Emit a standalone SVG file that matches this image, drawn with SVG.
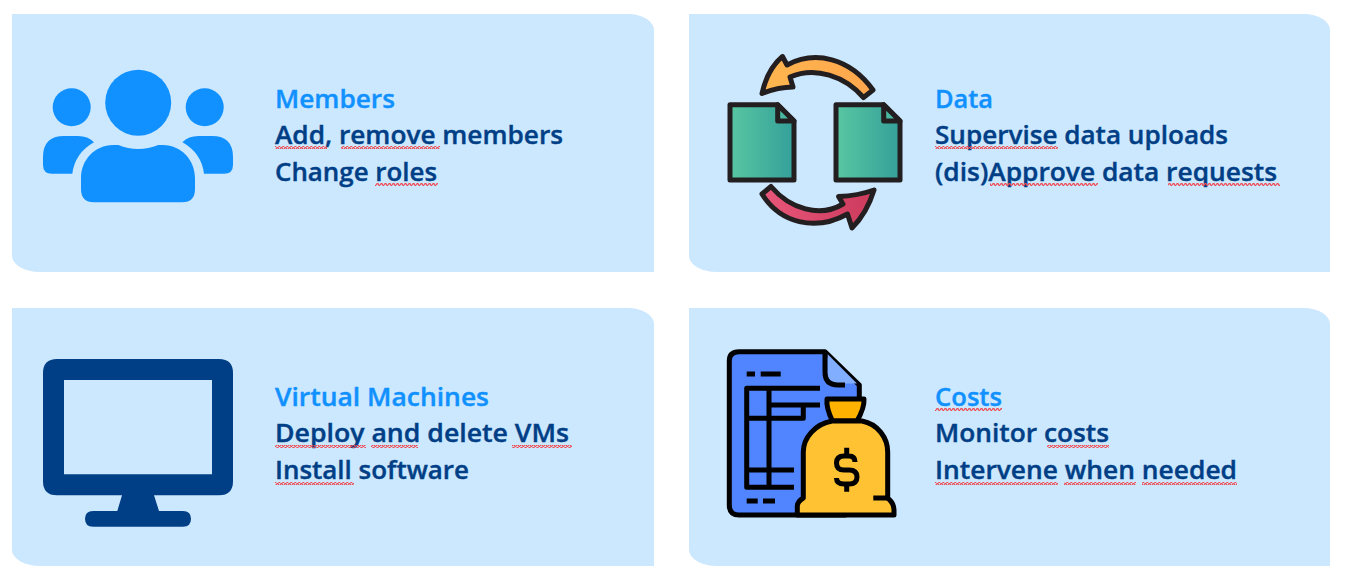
<svg xmlns="http://www.w3.org/2000/svg" width="1348" height="579" viewBox="0 0 1348 579">
<style>
.panel{fill:#CCE8FF}
text{font-family:"Open Sans","Noto Sans","Liberation Sans",sans-serif;font-size:26px;font-weight:600;stroke-width:.4}
.h{fill:#1191FF;stroke:#1191FF}
.b{fill:#003F86;stroke:#003F86}
.sq{fill:url(#squiggle)}
.ol{stroke:#231F20;stroke-width:5;stroke-linejoin:round;stroke-linecap:round}
.k{fill:none;stroke:#000;stroke-width:5;stroke-linecap:butt;stroke-linejoin:round}
.kf{stroke:#000;stroke-width:5;stroke-linejoin:round}
</style>
<defs>
<pattern id="squiggle" width="4" height="3" patternUnits="userSpaceOnUse">
<path d="M0 2.300L1 .7L2 .7L3 2.300L4 2.300" fill="none" stroke="#F0484F" stroke-width="1.200"/>
</pattern>
<linearGradient id="doc"><stop offset="0" stop-color="#58C7A1"/><stop offset="1" stop-color="#34A09A"/></linearGradient>
<linearGradient id="org"><stop offset="0" stop-color="#FFB64F"/><stop offset="1" stop-color="#FFA64D"/></linearGradient>
<linearGradient id="red"><stop offset="0" stop-color="#E8577A"/><stop offset="1" stop-color="#CC3B5C"/></linearGradient>
<g id="docIcon">
<path class="ol" fill="url(#doc)" d="M0 0H47.700L64 16.300V75.300H0Z"/>
<path class="ol" fill="#49B8A0" d="M47.700 0V16.300H64Z"/>
</g>
</defs>

<g id="members">
<path class="panel" d="M12 14H628A26 16 0 0 1 654 30V272H40A28 16 0 0 1 12 256Z"/>
<g fill="#1191FF">
<circle cx="138.200" cy="102.700" r="33"/>
<circle cx="71.700" cy="107.300" r="19"/>
<circle cx="204.700" cy="107.300" r="19"/>
<path d="M118.300 145Q138 153 158.300 145H163C181 145 195 160 195 178V189Q195 202.300 182 202.300H94Q81 202.300 81 189V178C81 160 95 145 113 145Z"/>
<path d="M94 142.300Q88 136 78 136H64Q43 136 43 157V165Q43 173.700 52 173.700H72.300Q75 153 94 142.300Z"/>
<path d="M182.400 142.300Q188.400 136 198.400 136H212Q233 136 233 157V165Q233 173.700 224 173.700H204Q201.400 153 182.400 142.300Z"/>
</g>
<text class="h" x="275" y="108" textLength="120" lengthAdjust="spacingAndGlyphs">Members</text>
<text class="b" x="275" y="144" textLength="288" lengthAdjust="spacingAndGlyphs">Add, remove members</text>
<text class="b" x="275" y="181" textLength="162" lengthAdjust="spacingAndGlyphs">Change roles</text>
<rect class="sq" x="275" y="146" width="52" height="3"/>
<rect class="sq" x="341" y="146" width="99" height="3"/>
<rect class="sq" x="375" y="183" width="63" height="3"/>
</g>

<g id="data">
<path class="panel" d="M689 14H1304A26 16 0 0 1 1330 30V272H717A28 16 0 0 1 689 256Z"/>
<use href="#docIcon" x="730" y="104.700"/>
<use href="#docIcon" x="836" y="104.700"/>
<path class="ol" fill="url(#org)" d="M873 90C850 58 815 50 787 65L782.500 56.500C771 66 765 80 762 93.500C771 90 782 87 793 87L790 77C815 66 845 76 863.500 97.500Z"/>
<path class="ol" fill="url(#red)" d="M762 194C780 223 815 232 847.500 214L852 228C863 217 870 203 874 190C863 194 852 196 838.500 196.500L843 204C820 218 790 209 771 186.500Z"/>
<text class="h" x="935" y="108" textLength="58" lengthAdjust="spacingAndGlyphs">Data</text>
<text class="b" x="935" y="144" textLength="293" lengthAdjust="spacingAndGlyphs">Supervise data uploads</text>
<text class="b" x="935" y="181" textLength="342" lengthAdjust="spacingAndGlyphs">(dis)Approve data requests</text>
<rect class="sq" x="935" y="146" width="123" height="3"/>
<rect class="sq" x="990" y="183" width="108" height="3"/>
<rect class="sq" x="1168" y="183" width="112" height="3"/>
</g>

<g id="virtual-machines">
<path class="panel" d="M12 308H628A26 16 0 0 1 654 324V566H40A28 16 0 0 1 12 550Z"/>
<path fill="#003F86" fill-rule="evenodd" d="M57 359H219Q233 359 233 373V481.300Q233 495.300 219 495.300H154L159 511H183Q191 511 191 518.800Q191 526.700 183 526.700H93Q85 526.700 85 518.800Q85 511 93 511H117.300L122 495.300H57Q43 495.300 43 481.300V373Q43 359 57 359ZM64 380V474.300H212V380Z"/>
<text class="h" x="275" y="406" textLength="214" lengthAdjust="spacingAndGlyphs">Virtual Machines</text>
<text class="b" x="275" y="442" textLength="294" lengthAdjust="spacingAndGlyphs">Deploy and delete VMs</text>
<text class="b" x="275" y="479" textLength="194" lengthAdjust="spacingAndGlyphs">Install software</text>
<rect class="sq" x="275" y="445" width="91" height="3"/>
<rect class="sq" x="371" y="445" width="47" height="3"/>
<rect class="sq" x="512" y="445" width="60" height="3"/>
<rect class="sq" x="275" y="482" width="79" height="3"/>
</g>

<g id="costs">
<path class="panel" d="M689 308H1304A26 16 0 0 1 1330 324V566H717A28 16 0 0 1 689 550Z"/>
<path class="kf" fill="#5184FF" d="M739 351.700H825L859.300 385V410H845V515H739Q729.300 515 729.300 505V361Q729.300 351.700 739 351.700Z"/>
<path fill="#82AEFF" d="M827.500 354L857 383.500H838Q827.500 383 827.500 372Z"/>
<path class="k" d="M825 352V372Q825 385 838 385H845"/>
<path class="k" d="M820 388.300H746.700V487.300H794M769 388.300V487.300M769 405H820M746.700 418.300H803.300V405M746.700 470H794"/>
<path class="k" d="M746.700 374H755M760.700 374H780.700M746.700 501H757.700M763 501H775"/>
<path class="kf" fill="#FFB300" d="M827 399H864Q864.500 408 857 421H832.500Q826 408 827 399Z"/>
<path class="kf" fill="#FFC233" d="M832 421H862C878 424 887.700 438 887.700 452V498C890 500 894 503 894 510V515H797.300V506C797.300 503 800 500 803.300 498V452C803.300 438 815 424 832 421Z"/>
<path class="k" d="M873.300 498H888"/>
<path class="k" d="M855 462Q855 456 849 456H844Q836.500 456 836.500 463Q836.500 470 844 470H849Q857 470 857 477Q857 484 849 484H844Q836.500 484 836.500 478M846.700 447.700V456M846.700 484V491.700"/>
<text class="h" x="935" y="406" textLength="67" lengthAdjust="spacingAndGlyphs">Costs</text>
<text class="b" x="935" y="442" textLength="174" lengthAdjust="spacingAndGlyphs">Monitor costs</text>
<text class="b" x="935" y="479" textLength="302" lengthAdjust="spacingAndGlyphs">Intervene when needed</text>
<rect class="sq" x="935" y="408" width="67" height="3"/>
<rect class="sq" x="1047" y="445" width="62" height="3"/>
<rect class="sq" x="935" y="482" width="123" height="3"/>
<rect class="sq" x="1064" y="482" width="72" height="3"/>
<rect class="sq" x="1142" y="482" width="95" height="3"/>
</g>
<g id="connectors"/>
</svg>
